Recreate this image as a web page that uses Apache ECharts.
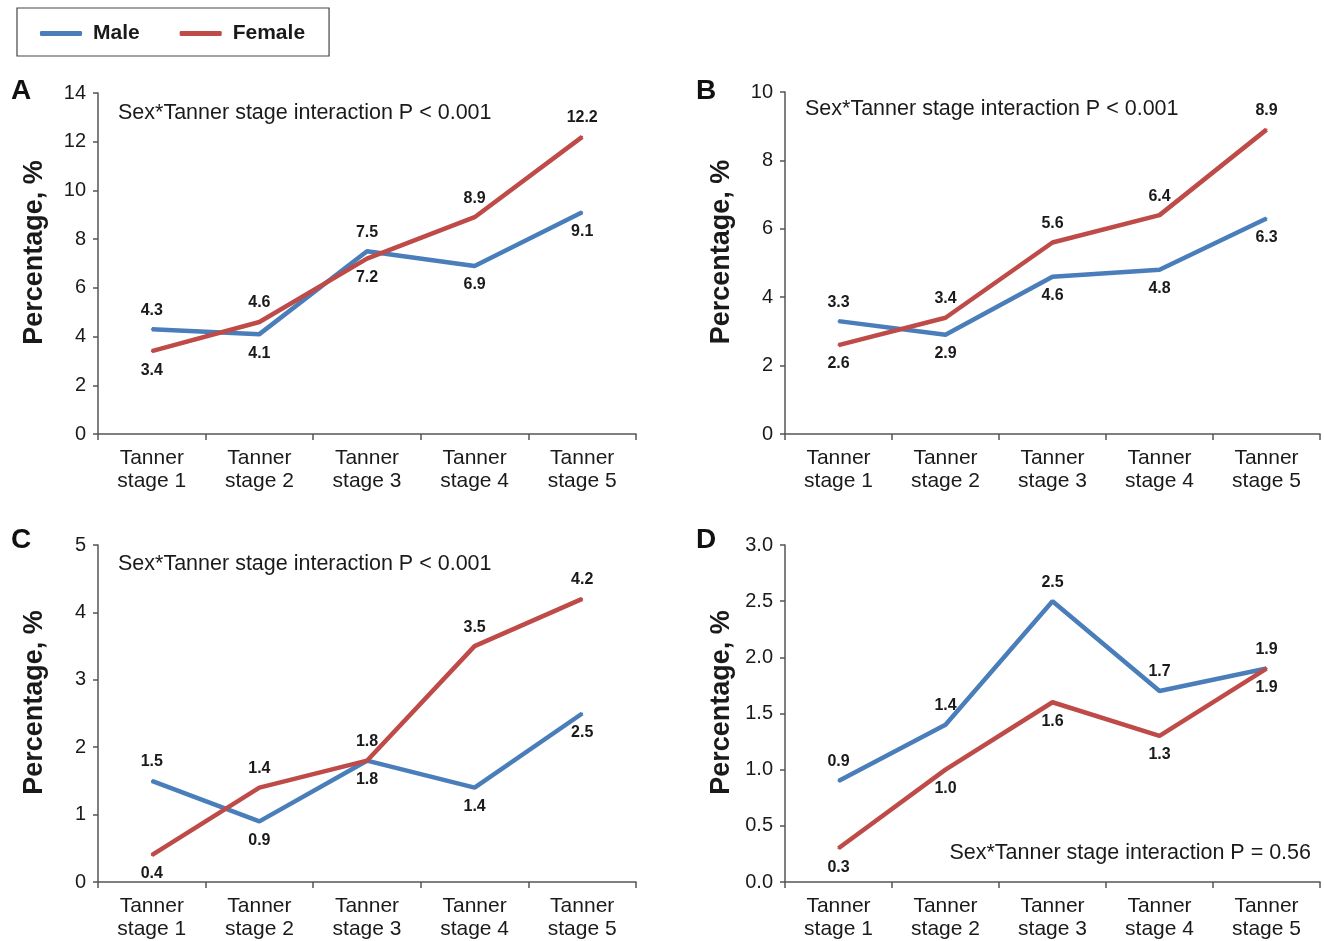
<!DOCTYPE html>
<html>
<head>
<meta charset="utf-8">
<script src="https://cdn.jsdelivr.net/npm/echarts@6/dist/echarts.min.js"></script>
<style>
html,body{margin:0;padding:0;background:#fff;}
#chart{width:1324px;height:941px;}
</style>
</head>
<body>
<div id="chart"></div>
<script>
const categories = ['Tanner\nstage 1','Tanner\nstage 2','Tanner\nstage 3','Tanner\nstage 4','Tanner\nstage 5'];
const seriesNames = ['Male','Female'];

const maleA = [4.3, 4.1, 7.5, 6.9, 9.1];
const femaleA = [3.4, 4.6, 7.2, 8.9, 12.2];
const maleB = [3.3, 2.9, 4.6, 4.8, 6.3];
const femaleB = [2.6, 3.4, 5.6, 6.4, 8.9];
const maleC = [1.5, 0.9, 1.8, 1.4, 2.5];
const femaleC = [0.4, 1.4, 1.8, 3.5, 4.2];
const maleD = [0.9, 1.4, 2.5, 1.7, 1.9];
const femaleD = [0.3, 1.0, 1.6, 1.3, 1.9];

const panelLetters = ['A','B','C','D'];
const yMax = [14, 10, 5, 3];
const yStep = [2, 2, 1, 0.5];
const yDecimals = [0, 0, 0, 1];
const annotations = [
  'Sex*Tanner stage interaction P < 0.001',
  'Sex*Tanner stage interaction P < 0.001',
  'Sex*Tanner stage interaction P < 0.001',
  'Sex*Tanner stage interaction P = 0.56'
];
const yTitle = 'Percentage, %';

const panels = [[maleA, femaleA],[maleB, femaleB],[maleC, femaleC],[maleD, femaleD]];

const FONT = "'Liberation Sans', Arial, Helvetica, sans-serif";
const BLUE = '#4a7ebb';
const RED = '#be4b48';
const AXIS = '#555';
const TXT = '#1a1a1a';

const grids = [
  {left: 98, top: 93, width: 538, height: 341},
  {left: 785, top: 92, width: 535, height: 342},
  {left: 98, top: 545, width: 538, height: 341},
  {left: 785, top: 545, width: 535, height: 341}
];

// label placement: above if this series is higher than the other at that point;
// on a tie, whichever series was higher at the previous stage goes above
function placement(own, other) {
  return own.map((v, i) => {
    if (v > other[i]) return 'top';
    if (v < other[i]) return 'bottom';
    return (own[i-1] > other[i-1]) ? 'top' : 'bottom';
  });
}

const xAxis = [], yAxis = [], series = [];
panels.forEach((p, k) => {
  xAxis.push({
    type: 'category', gridIndex: k, data: categories, boundaryGap: true,
    axisLine: {lineStyle: {color: AXIS, width: 1.5}},
    axisTick: {show: true, length: 6, lineStyle: {color: AXIS, width: 1.5}},
    axisLabel: {color: TXT, fontSize: 21, fontFamily: FONT, lineHeight: 23, margin: 13, interval: 0}
  });
  yAxis.push({
    type: 'value', gridIndex: k, min: 0, max: yMax[k], interval: yStep[k],
    name: yTitle, nameLocation: 'middle', nameGap: 50, nameRotate: 90,
    nameTextStyle: {color: TXT, fontSize: 27, fontWeight: 'bold', fontFamily: FONT, padding: [0, 0, 0, 22]},
    splitLine: {show: false},
    axisLine: {show: true, lineStyle: {color: AXIS, width: 1.5}},
    axisTick: {show: true, length: 5, lineStyle: {color: AXIS, width: 1.5}},
    axisLabel: {color: TXT, fontSize: 20, fontFamily: FONT, margin: 12,
      formatter: v => v.toFixed(yDecimals[k])}
  });
  p.forEach((vals, s) => {
    const pos = placement(vals, p[1 - s]);
    const col = s === 0 ? BLUE : RED;
    series.push({
      name: seriesNames[s], type: 'line', xAxisIndex: k, yAxisIndex: k,
      symbol: 'circle', symbolSize: 2, showSymbol: true, silent: true, animation: false,
      lineStyle: {color: col, width: 4.5},
      itemStyle: {color: col},
      labelLayout: {hideOverlap: false},
      data: vals.map((v, i) => ({
        value: v,
        label: {show: true, position: pos[i], distance: 10,
          formatter: () => v.toFixed(1),
          fontSize: 16, fontWeight: 'bold', color: TXT, fontFamily: FONT}
      }))
    });
  });
});

const graphic = [];
const letterPos = [[22, 92], [707, 92], [22, 541], [707, 541]];
panelLetters.forEach((L, k) => {
  graphic.push({type: 'text', left: letterPos[k][0] - 11, top: letterPos[k][1] - 15,
    style: {text: L, font: "bold 28px " + FONT, fill: '#111'}});
});
graphic.push({type: 'text', left: 118, top: 102, style: {text: annotations[0], font: "21.5px " + FONT, fill: TXT}});
graphic.push({type: 'text', left: 805, top: 98, style: {text: annotations[1], font: "21.5px " + FONT, fill: TXT}});
graphic.push({type: 'text', left: 118, top: 553, style: {text: annotations[2], font: "21.5px " + FONT, fill: TXT}});
graphic.push({type: 'text', right: 13, top: 842, style: {text: annotations[3], font: "21.5px " + FONT, fill: TXT}});

const option = {
  backgroundColor: '#fff',
  animation: false,
  textStyle: {fontFamily: FONT},
  legend: {
    data: [{name: 'Male', itemStyle: {color: BLUE}}, {name: 'Female', itemStyle: {color: RED}}],
    left: 17, top: 8, orient: 'horizontal',
    padding: [15, 24, 12, 23],
    borderColor: '#444', borderWidth: 1.2,
    icon: 'roundRect', itemWidth: 42, itemHeight: 5, itemGap: 40,
    textStyle: {fontSize: 21, fontWeight: 'bold', color: TXT, fontFamily: FONT, padding: [0, 0, 0, 6]},
    selectedMode: false
  },
  grid: grids,
  xAxis: xAxis,
  yAxis: yAxis,
  series: series,
  graphic: graphic
};

const chart = echarts.init(document.getElementById('chart'), null, {renderer: 'canvas'});
chart.setOption(option);
</script>
</body>
</html>
